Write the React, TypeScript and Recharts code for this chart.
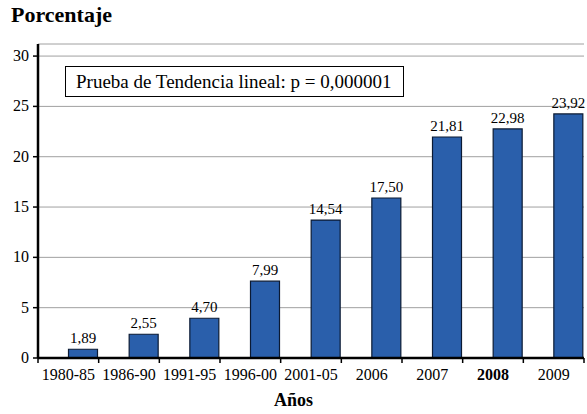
import React from 'react';
import { BarChart, Bar, XAxis, YAxis, CartesianGrid, LabelList } from 'recharts';

const categories = ['1980-85', '1986-90', '1991-95', '1996-00', '2001-05', '2006', '2007', '2008', '2009'];
// empty first series: the original chart leaves an empty slot left of each bar
const spacerValues = [0, 0, 0, 0, 0, 0, 0, 0, 0];
const barValues = [0.87, 2.36, 3.95, 7.63, 13.7, 15.9, 21.96, 22.76, 24.25];
const valueLabels = ['1,89', '2,55', '4,70', '7,99', '14,54', '17,50', '21,81', '22,98', '23,92'];
const yTicks = [0, 5, 10, 15, 20, 25, 30];

const data = categories.map((name, i) => ({
  name,
  spacer: spacerValues[i],
  value: barValues[i],
  label: valueLabels[i],
}));

const W = 587;
const H = 414;
const M = { top: 44, right: 3, left: 8, bottom: 26 };
const Y_W = 30;
const FONT = '"Liberation Serif", "DejaVu Serif", serif';
const STEP = (W - M.left - M.right - Y_W) / categories.length;

const XTick = (props: any) => {
  const { x, y, payload, index } = props;
  return (
    <g>
      {index === 0 && (
        <line x1={x - STEP / 2} x2={x - STEP / 2} y1={y - 8} y2={y - 3} stroke="#000" strokeWidth={1.5} />
      )}
      <line x1={x + STEP / 2} x2={x + STEP / 2} y1={y - 8} y2={y - 3} stroke="#000" strokeWidth={1.5} />
      <text
        x={x}
        y={y + 14}
        textAnchor="middle"
        fontFamily={FONT}
        fontSize={16}
        fontWeight={payload.value === '2008' ? 'bold' : 'normal'}
        fill="#000"
      >
        {payload.value}
      </text>
    </g>
  );
};

const YTick = (props: any) => {
  const { x, y, payload } = props;
  return (
    <text x={x - 2} y={y + 5} textAnchor="end" fontFamily={FONT} fontSize={16} fill="#000">
      {payload.value}
    </text>
  );
};

export default function App() {
  return (
    <div style={{ position: 'absolute', left: 0, top: 0, width: W, height: H, background: '#fff', fontFamily: FONT }}>
      <div style={{ position: 'absolute', left: 11, top: 2, fontSize: 22, fontWeight: 'bold' }}>Porcentaje</div>
      <BarChart width={W} height={H} data={data} margin={M} barCategoryGap={1.5} barGap={0}>
        <CartesianGrid vertical={false} stroke="#a0a0a0" strokeWidth={1} />
        <XAxis
          dataKey="name"
          axisLine={{ stroke: '#000', strokeWidth: 2.5 }}
          tickLine={false}
          tick={<XTick />}
          interval={0}
          height={30}
        />
        <YAxis
          domain={[0, 31.2]}
          ticks={yTicks}
          width={Y_W}
          axisLine={{ stroke: '#000', strokeWidth: 2.5 }}
          tickLine={{ stroke: '#000', strokeWidth: 1.5 }}
          tickSize={5}
          tick={<YTick />}
        />
        <Bar dataKey="spacer" fill="none" isAnimationActive={false} />
        <Bar dataKey="value" fill="#2a5fab" stroke="#0b1a33" strokeWidth={1.2} isAnimationActive={false}>
          <LabelList dataKey="label" position="top" offset={6} style={{ fontFamily: FONT, fontSize: 15, fill: '#000' }} />
        </Bar>
      </BarChart>
      <div
        style={{
          position: 'absolute',
          left: 65,
          top: 66,
          width: 339,
          height: 31,
          boxSizing: 'border-box',
          border: '1px solid #000',
          background: '#fff',
          fontSize: 19,
          lineHeight: '29px',
          paddingLeft: 10,
          whiteSpace: 'nowrap',
        }}
      >
        Prueba de Tendencia lineal: p = 0,000001
      </div>
      <div style={{ position: 'absolute', left: 0, width: W, top: 390, textAlign: 'center', fontSize: 18, fontWeight: 'bold' }}>
        Años
      </div>
    </div>
  );
}
